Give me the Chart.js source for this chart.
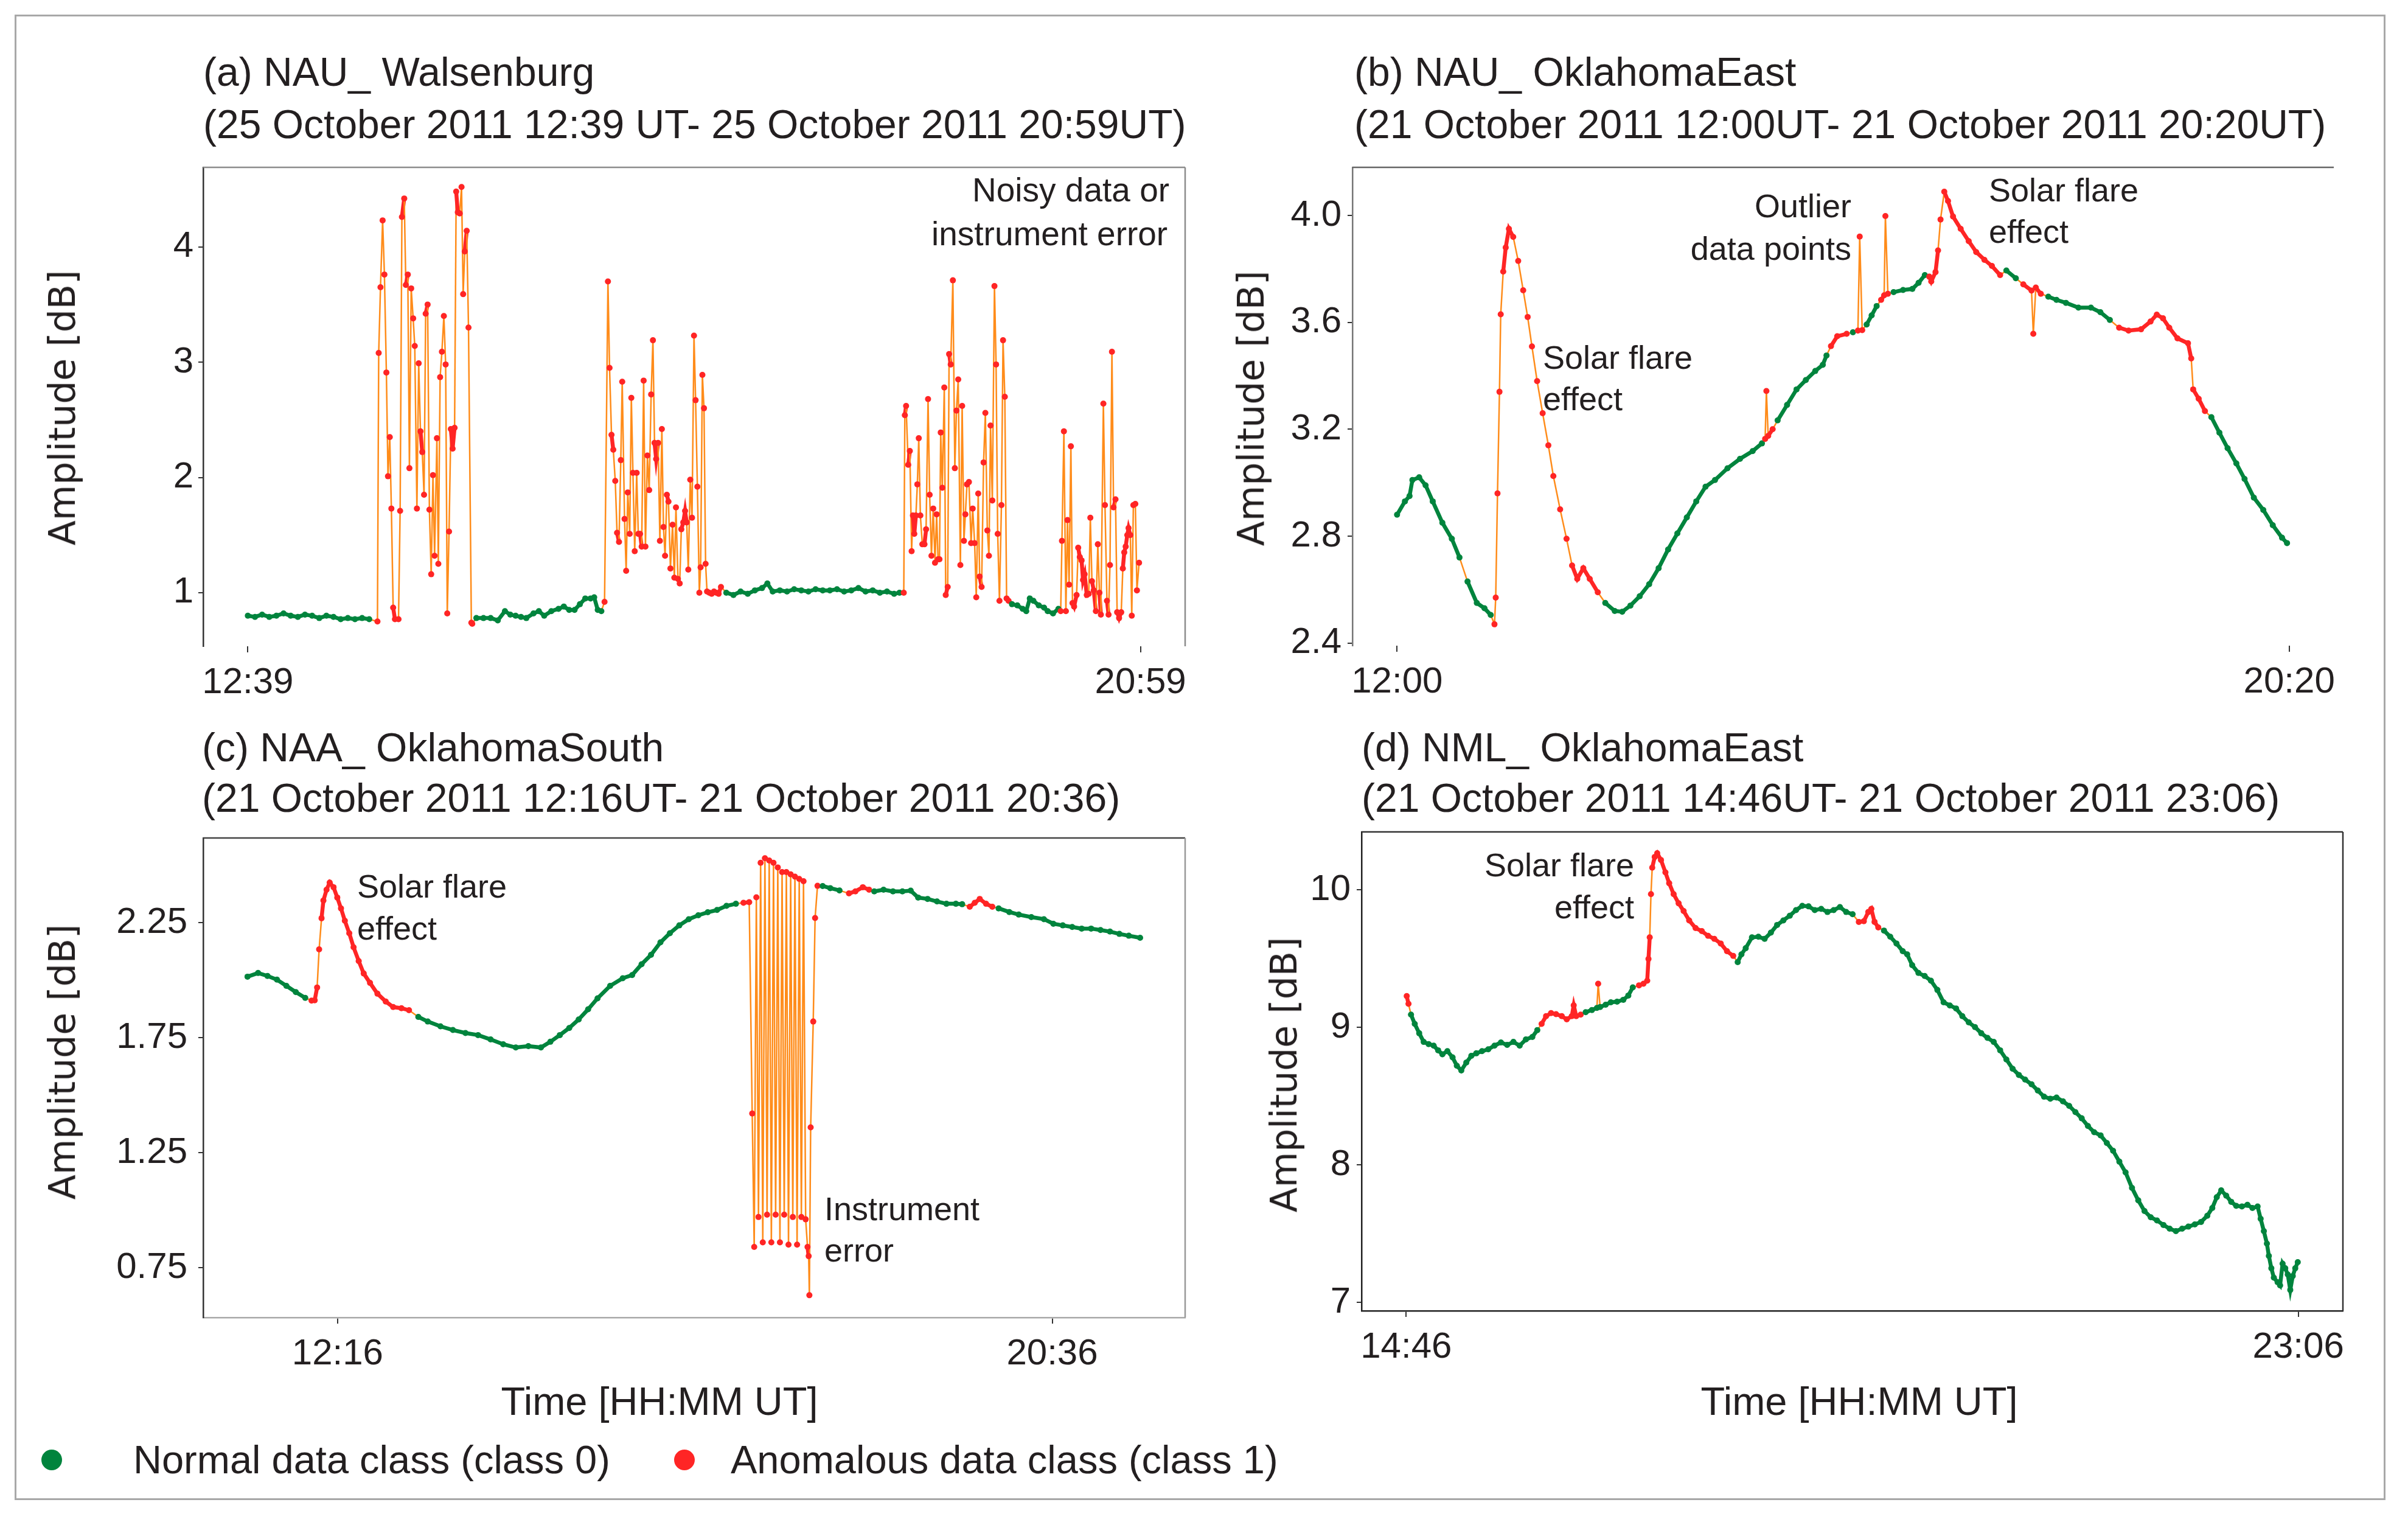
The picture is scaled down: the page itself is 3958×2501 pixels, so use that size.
<!DOCTYPE html>
<html>
<head>
<meta charset="utf-8">
<title>VLF amplitude – normal / anomalous classes</title>
<script src="https://cdn.jsdelivr.net/npm/chart.js@4.4.1/dist/chart.umd.min.js"></script>
<style>
  html, body { margin: 0; padding: 0; background: #fff; }
  body { position: relative; width: 3958px; height: 2501px; overflow: hidden;
         font-family: "Liberation Sans", Arial, sans-serif; color: #231f20; }
  .frame { position: absolute; left: 24px; top: 24px; width: 3897px; height: 2441px;
           border: 3px solid #a8a8a8; box-sizing: border-box; }
  .txt { position: absolute; white-space: nowrap; line-height: 1; transform: translateY(-50%); }
  .txt.right { transform: translate(-100%, -50%); }
  .txt.mid { transform: translate(-50%, -50%); }
  .ylab { position: absolute; white-space: nowrap; line-height: 1; font-family: "DejaVu Sans", sans-serif;
          font-size: 60px; transform: translate(-50%, -50%) rotate(-90deg); }
  .dot { position: absolute; width: 34px; height: 34px; border-radius: 50%; transform: translate(-50%, -50%); }
  canvas { position: absolute; }
</style>
</head>
<body>
<div class="frame"></div>
<script>
// time = minutes after the first labelled tick, amp = amplitude [dB], class 0 normal / 1 anomalous

// (a) NAU_Walsenburg
const aTime = [
  0, 4, 8, 12, 16, 20, 24, 28, 32, 36,
  40, 44, 48, 52, 56, 60, 64, 68,
  72.6, 73.3, 74.3, 75.5, 76.5, 77.6, 78.5, 79.5, 80.4, 81.4,
  82.4, 84.4, 85.3, 86.3, 87.6, 88.5, 89.6, 90.5, 91.5, 92.6,
  93.5, 94.7, 95.7, 96.7, 97.7, 98.7, 99.6, 100.7, 101.7, 102.7,
  103.7, 104.6, 105.9, 106.7, 107.7, 108.7, 109.8, 110.8, 111.7, 112.7,
  113.7, 114.7, 115.8, 116.7, 117.6, 118.7, 119.7, 120.6, 121.5, 122.6,
  123.6, 125.2, 125.7,
  128, 132, 136, 140, 144, 147, 150, 153, 156, 160,
  163, 166, 170, 174, 177, 180, 183, 186, 189, 192,
  194, 196, 198,
  199.8, 201.7, 202.6, 203.7, 204.7, 205.8, 206.8, 207.9, 208.9, 209.7,
  211.0, 211.9, 212.8, 213.9, 214.8, 215.7, 216.7, 217.8, 218.7, 219.7,
  220.6, 221.7, 222.7, 223.8, 224.8, 225.9, 226.9, 227.8, 228.7, 229.8,
  230.8, 231.9, 232.8, 233.7, 234.7, 235.6, 236.7, 237.9, 238.9, 239.8,
  240.9, 241.9, 242.8, 243.9, 244.9, 245.8, 246.7, 247.8, 248.8, 249.9,
  250.8, 251.8, 252.9, 253.6, 254.6, 255.5, 256.4, 257.2, 258.5, 259.8,
  261.1, 262.4, 263.7, 265.0,
  268, 272, 276, 280, 284, 288, 291, 294, 298, 302,
  306, 310, 314, 318, 322, 326, 330, 334, 338, 342,
  346, 350, 354, 358, 362, 365,
  367.4, 368.0, 368.7, 369.9, 370.8, 371.8, 372.5, 373.3, 374.2, 375.0,
  375.8, 376.7, 377.8, 379.0, 379.9, 381.0, 381.9, 382.9, 383.9, 384.9,
  385.8, 386.6, 387.4, 388.1, 389.0, 390.1, 390.9, 392.0, 392.8, 393.7,
  394.9, 396.0, 396.9, 397.9, 399.1, 400.1, 401.1, 401.9, 402.8, 403.9,
  405.1, 406.0, 407.1, 408.0, 409.1, 409.9, 411.0, 412.1, 413.1, 414.2,
  415.1, 416.0, 417.0, 418.2, 419.1, 420.0, 421.0, 422.1, 423.0, 424.0,
  425.0, 426.1,
  428, 431, 434, 436, 438, 440, 443, 446, 448, 451,
  454,
  455.3, 456.0, 457.1, 458.2, 459.1, 460.0, 461.0, 461.9, 462.8, 464.2,
  465.1, 466.0, 467.0, 467.8, 468.7, 469.9, 471.0, 471.9, 472.8, 473.8,
  475.0, 476.1, 477.0, 477.8, 479.2, 480.1, 481.2, 482.1, 482.9, 484.0,
  484.9, 486.0, 486.9, 488.0, 489.2, 490.1, 490.9, 491.7, 492.6, 493.3,
  494.3, 495.1, 496.0, 497.1, 498.0, 499.2
];
const aAmp = [
  0.80, 0.79, 0.81, 0.79, 0.80, 0.82, 0.80, 0.79, 0.81, 0.80,
  0.78, 0.80, 0.79, 0.77, 0.78, 0.77, 0.78, 0.77,
  0.75, 3.08, 3.65, 4.23, 3.76, 2.91, 2.01, 2.35, 1.73, 0.87,
  0.77, 0.77, 1.71, 4.26, 4.42, 3.67, 3.76, 2.08, 3.64, 3.38,
  3.14, 1.73, 2.99, 2.40, 2.22, 1.85, 3.42, 3.50, 1.72, 1.16,
  2.02, 1.32, 2.34, 1.25, 2.87, 3.09, 3.40, 2.98, 0.82, 1.53,
  2.42, 2.25, 2.43, 4.48, 4.30, 4.29, 4.52, 3.59, 3.96, 4.14,
  3.30, 0.74, 0.73,
  0.78, 0.78, 0.78, 0.76, 0.84, 0.81, 0.80, 0.79, 0.78, 0.82,
  0.84, 0.80, 0.84, 0.86, 0.88, 0.85, 0.85, 0.90, 0.95, 0.95,
  0.96, 0.85, 0.84,
  0.92, 3.70, 2.95, 2.37, 2.24, 1.97, 1.52, 1.44, 2.15, 2.83,
  1.64, 1.19, 1.87, 1.51, 2.69, 2.04, 1.36, 2.04, 1.51, 1.51,
  1.40, 2.84, 1.40, 2.19, 1.89, 2.72, 3.19, 2.30, 2.16, 2.30,
  1.45, 2.42, 1.57, 1.32, 1.85, 1.79, 1.21, 1.59, 1.13, 1.74,
  1.12, 1.08, 1.55, 1.61, 1.71, 1.61, 1.20, 1.98, 1.65, 3.23,
  2.67, 1.92, 1.00, 1.22, 2.89, 2.60, 1.25, 1.01, 1.00, 0.99,
  1.01, 1.00, 0.99, 1.05,
  1.00, 0.98, 1.01, 0.99, 1.02, 1.04, 1.08, 1.01, 1.02, 1.01,
  1.03, 1.02, 1.01, 1.03, 1.02, 1.02, 1.03, 1.01, 1.02, 1.04,
  1.01, 1.02, 1.00, 1.01, 0.99, 1.00,
  1.00, 2.54, 2.62, 2.11, 2.23, 1.36, 1.67, 1.51, 1.67, 1.94,
  2.34, 1.67, 1.42, 1.42, 1.55, 2.68, 1.85, 1.32, 1.73, 1.26,
  1.68, 1.29, 1.29, 2.39, 1.91, 2.78, 0.98, 1.05, 3.07, 2.98,
  3.71, 2.08, 2.58, 2.85, 1.24, 2.62, 1.45, 1.68, 1.94, 1.96,
  1.43, 1.73, 1.43, 0.96, 1.86, 1.14, 1.05, 2.13, 2.56, 1.54,
  1.32, 2.45, 1.80, 3.66, 2.98, 1.51, 0.93, 1.76, 3.19, 2.70,
  0.95, 0.93,
  0.90, 0.89, 0.86, 0.84, 0.95, 0.93, 0.89, 0.87, 0.84, 0.82,
  0.86,
  0.84, 1.45, 2.40, 0.84, 1.63, 1.07, 2.27, 0.91, 0.88, 0.98,
  1.39, 1.31, 1.28, 1.11, 1.16, 0.98, 0.99, 1.65, 1.10, 1.02,
  0.84, 1.42, 1.00, 0.81, 2.64, 1.76, 0.93, 0.81, 1.24, 3.09,
  1.74, 1.81, 0.83, 0.78, 0.83, 1.21, 1.35, 1.40, 1.50, 1.56,
  1.50, 0.80, 1.76, 1.77, 1.02, 1.26
];
const aClass = [
  0, 0, 0, 0, 0, 0, 0, 0, 0, 0,
  0, 0, 0, 0, 0, 0, 0, 0,
  1, 1, 1, 1, 1, 1, 1, 1, 1, 1,
  1, 1, 1, 1, 1, 1, 1, 1, 1, 1,
  1, 1, 1, 1, 1, 1, 1, 1, 1, 1,
  1, 1, 1, 1, 1, 1, 1, 1, 1, 1,
  1, 1, 1, 1, 1, 1, 1, 1, 1, 1,
  1, 1, 1,
  0, 0, 0, 0, 0, 0, 0, 0, 0, 0,
  0, 0, 0, 0, 0, 0, 0, 0, 0, 0,
  0, 0, 0,
  1, 1, 1, 1, 1, 1, 1, 1, 1, 1,
  1, 1, 1, 1, 1, 1, 1, 1, 1, 1,
  1, 1, 1, 1, 1, 1, 1, 1, 1, 1,
  1, 1, 1, 1, 1, 1, 1, 1, 1, 1,
  1, 1, 1, 1, 1, 1, 1, 1, 1, 1,
  1, 1, 1, 1, 1, 1, 1, 1, 1, 1,
  1, 1, 1, 1,
  0, 0, 0, 0, 0, 0, 0, 0, 0, 0,
  0, 0, 0, 0, 0, 0, 0, 0, 0, 0,
  0, 0, 0, 0, 0, 0,
  1, 1, 1, 1, 1, 1, 1, 1, 1, 1,
  1, 1, 1, 1, 1, 1, 1, 1, 1, 1,
  1, 1, 1, 1, 1, 1, 1, 1, 1, 1,
  1, 1, 1, 1, 1, 1, 1, 1, 1, 1,
  1, 1, 1, 1, 1, 1, 1, 1, 1, 1,
  1, 1, 1, 1, 1, 1, 1, 1, 1, 1,
  1, 1,
  0, 0, 0, 0, 0, 0, 0, 0, 0, 0,
  0,
  1, 1, 1, 1, 1, 1, 1, 1, 1, 1,
  1, 1, 1, 1, 1, 1, 1, 1, 1, 1,
  1, 1, 1, 1, 1, 1, 1, 1, 1, 1,
  1, 1, 1, 1, 1, 1, 1, 1, 1, 1,
  1, 1, 1, 1, 1, 1
];
const aXLabels = ['12:39', '20:59'];
const aYTicks = [1, 2, 3, 4];

// (b) NAU_OklahomaEast
const bTime = [
  0, 4.4, 7, 8.6, 12.4, 16, 20, 25.4, 30.7, 35,
  39.5, 44.7, 49, 52.5, 54.6, 55.3, 56.3, 57.4, 58.1, 59.5,
  60.9, 62.7, 65.1, 67.9, 70.7, 73.2, 75.6, 78.5, 81.6, 84.8,
  87.6, 91.4, 95, 98.1, 101, 104.4, 108, 112.5, 116.7, 122,
  126.2, 130.8, 136, 141.3, 146.6, 151.9, 157.1, 162.4, 167.7, 172.9,
  178.2, 185.2, 192.2, 199.3, 204.5, 206.3, 207, 208, 210.5, 213.3,
  218.6, 223.9, 229.1, 234.4, 238.6, 240.7, 243.2, 246.7, 252, 255.5,
  258.3, 259.3, 260.7, 263.2, 266, 268.8, 271.3, 273, 273.7, 275.1,
  278.3, 283.6, 288.8, 292.3, 295.8, 298.3, 299.4, 301.8, 303.2, 304.6,
  306.7, 308.8, 311.6, 315.9, 320.4, 324.6, 329.2, 333.4, 338, 341.5,
  346.8, 351, 355.6, 356.6, 358, 360.8, 365, 369.6, 374.9, 381.9,
  388.9, 394.2, 399.5, 404.7, 410, 417, 422.3, 425.8, 429.3, 432.8,
  437.4, 443.3, 445.1, 446.2, 449.3, 452.8, 456.4, 460.9, 465.5, 470.4,
  475, 480.2, 485.5, 490.8, 496, 498.8
];
const bAmp = [
  2.88, 2.93, 2.95, 3.01, 3.02, 2.99, 2.93, 2.85, 2.79, 2.72,
  2.63, 2.55, 2.53, 2.505, 2.47, 2.57, 2.96, 3.34, 3.63, 3.79,
  3.88, 3.95, 3.92, 3.83, 3.72, 3.62, 3.51, 3.38, 3.26, 3.14,
  3.025, 2.90, 2.79, 2.69, 2.64, 2.68, 2.64, 2.59, 2.55, 2.52,
  2.517, 2.54, 2.575, 2.62, 2.68, 2.75, 2.81, 2.87, 2.93, 2.985,
  3.01, 3.054, 3.089, 3.118, 3.147, 3.164, 3.343, 3.175, 3.20, 3.233,
  3.291, 3.349, 3.384, 3.418, 3.441, 3.476, 3.511, 3.548, 3.557, 3.563,
  3.569, 3.921, 3.571, 3.592, 3.626, 3.661, 3.684, 3.701, 3.998, 3.707,
  3.713, 3.721, 3.725, 3.748, 3.777, 3.771, 3.753, 3.788, 3.869, 3.985,
  4.089, 4.054, 3.996, 3.95, 3.904, 3.863, 3.834, 3.811, 3.777, 3.794,
  3.765, 3.742, 3.719, 3.557, 3.73, 3.707, 3.696, 3.684, 3.673, 3.655,
  3.655, 3.638, 3.609, 3.58, 3.569, 3.574, 3.603, 3.629, 3.615, 3.58,
  3.54, 3.522, 3.465, 3.349, 3.314, 3.268, 3.245, 3.187, 3.129, 3.072,
  3.014, 2.944, 2.898, 2.841, 2.794, 2.774
];
const bClass = [
  0, 0, 0, 0, 0, 0, 0, 0, 0, 0,
  0, 0, 0, 0, 1, 1, 1, 1, 1, 1,
  1, 1, 1, 1, 1, 1, 1, 1, 1, 1,
  1, 1, 1, 1, 1, 1, 1, 1, 0, 0,
  0, 0, 0, 0, 0, 0, 0, 0, 0, 0,
  0, 0, 0, 0, 0, 1, 1, 1, 1, 0,
  0, 0, 0, 0, 0, 0, 1, 1, 1, 0,
  1, 1, 1, 0, 0, 0, 1, 1, 1, 1,
  0, 0, 0, 0, 0, 1, 1, 1, 1, 1,
  1, 1, 1, 1, 1, 1, 1, 1, 1, 0,
  0, 1, 1, 1, 1, 1, 0, 0, 0, 0,
  0, 0, 0, 1, 1, 1, 1, 1, 1, 1,
  1, 1, 1, 1, 1, 1, 0, 0, 0, 0,
  0, 0, 0, 0, 0, 0
];
const bXLabels = ['12:00', '20:20'];
const bYTicks = [2.4, 2.8, 3.2, 3.6, 4.0];

// (c) NAA_OklahomaSouth
const cTime = [
  -63, -55.6, -49, -42.4, -35.8, -29.2, -22.6, -18.2, -16, -14.3,
  -12.9, -11.2, -9.9, -7.7, -5.5, -2.8, -0.2, 2.4, 5.1, 8.2,
  11.2, 14.8, 18.3, 22.7, 27.9, 33.7, 38.9, 44.7, 50, 56.5,
  63.1, 72, 80.7, 89.5, 98.3, 107.1, 115.9, 124.7, 133.5, 142.3,
  148.9, 155.5, 162.1, 168.7, 175.3, 181.9, 190.7, 199.5, 206.1, 212.7,
  219.3, 225.9, 232.5, 239.1, 245.7, 252.4, 259, 265.5, 272.1, 278.7,
  284, 288, 290.1, 291.5, 293, 294.5, 296, 297.5, 299, 300.5,
  302, 303.5, 305, 306.5, 308, 309.5, 311, 312.5, 314, 315.5,
  317, 318.5, 320, 321.5, 323, 324.5, 326, 327.5, 328.8, 329.6,
  330.1, 331, 332.8, 334.1, 335.8, 339.4, 344.7, 351.2, 357.8, 362.3,
  367.5, 371.9, 375.5, 382, 388.6, 395.2, 401, 406.2, 412.8, 419.4,
  426, 432.6, 437, 442.3, 445.8, 449.3, 453.7, 458.1, 462.5, 470,
  476.6, 485.4, 494.2, 500.8, 507.4, 514, 520.6, 527.2, 533.8, 540.4,
  547, 553.6, 561.5
];
const cAmp = [
  2.015, 2.031, 2.018, 2.002, 1.975, 1.948, 1.923, 1.911, 1.912, 1.968,
  2.134, 2.269, 2.346, 2.393, 2.424, 2.404, 2.359, 2.312, 2.258, 2.204,
  2.143, 2.083, 2.029, 1.988, 1.941, 1.907, 1.883, 1.878, 1.869, 1.84,
  1.82, 1.799, 1.783, 1.77, 1.761, 1.742, 1.721, 1.707, 1.713, 1.707,
  1.732, 1.761, 1.792, 1.829, 1.873, 1.921, 1.975, 2.008, 2.022, 2.069,
  2.11, 2.164, 2.204, 2.238, 2.265, 2.282, 2.295, 2.305, 2.323, 2.332,
  2.336, 2.339, 1.42, 0.84, 2.36, 0.97, 2.51, 0.86, 2.53, 0.98,
  2.52, 0.86, 2.51, 0.98, 2.49, 0.86, 2.47, 0.98, 2.47, 0.85,
  2.46, 0.97, 2.45, 0.85, 2.44, 0.97, 2.43, 0.96, 0.84, 0.80,
  0.63, 1.36, 1.82, 2.27, 2.41, 2.409, 2.40, 2.39, 2.377, 2.386,
  2.404, 2.393, 2.386, 2.393, 2.386, 2.386, 2.389, 2.359, 2.353, 2.342,
  2.332, 2.332, 2.33, 2.319, 2.336, 2.353, 2.332, 2.319, 2.312, 2.296,
  2.285, 2.274, 2.265, 2.245, 2.238, 2.231, 2.224, 2.224, 2.218, 2.211,
  2.201, 2.193, 2.184
];
const cClass = [
  0, 0, 0, 0, 0, 0, 0, 1, 1, 1,
  1, 1, 1, 1, 1, 1, 1, 1, 1, 1,
  1, 1, 1, 1, 1, 1, 1, 1, 1, 0,
  0, 0, 0, 0, 0, 0, 0, 0, 0, 0,
  0, 0, 0, 0, 0, 0, 0, 0, 0, 0,
  0, 0, 0, 0, 0, 0, 0, 0, 0, 0,
  1, 1, 1, 1, 1, 1, 1, 1, 1, 1,
  1, 1, 1, 1, 1, 1, 1, 1, 1, 1,
  1, 1, 1, 1, 1, 1, 1, 1, 1, 1,
  1, 1, 1, 1, 1, 0, 0, 0, 1, 1,
  1, 1, 0, 0, 0, 0, 0, 0, 0, 0,
  0, 0, 0, 1, 1, 1, 1, 1, 0, 0,
  0, 0, 0, 0, 0, 0, 0, 0, 0, 0,
  0, 0, 0
];
const cXLabels = ['12:16', '20:36'];
const cYTicks = [0.75, 1.25, 1.75, 2.25];

// (d) NML_OklahomaEast
const dTime = [
  0.3, 1.3, 2.7, 4.8, 7.3, 9.8, 12.6, 15.4, 17.9, 20.3,
  23.1, 26, 28.4, 30.9, 33.7, 36.5, 39.3, 42.5, 46, 49.5,
  53.1, 56.6, 60.1, 63.6, 67.1, 70.7, 73.5, 75.9, 78.4, 81.2,
  84, 87.2, 90, 92.8, 93.9, 95.3, 97.8, 100.6, 104.1, 106.9,
  107.6, 108.7, 111.8, 114.7, 118.2, 121.7, 124.5, 127, 130.5, 133,
  135.1, 135.8, 136.5, 137.2, 137.9, 139.3, 140.7, 142.8, 145.3, 147.4,
  149.9, 152.7, 155.5, 158.6, 162.2, 165.7, 169.2, 172.7, 176.3, 179.8,
  183.3, 185.8, 187.9, 190.3, 193.8, 197.4, 200.9, 204.4, 207.9, 211.4,
  215, 218.5, 222, 225.5, 229, 232.6, 236.1, 239.6, 243.1, 246.6,
  250.2, 253.7, 256.5, 259, 260.7, 262.5, 264.6, 267.8, 271.3, 274.8,
  278.3, 280.8, 283.6, 287.1, 290.6, 294.1, 297.7, 301.2, 304.7, 308.2,
  311.7, 315.3, 318.8, 322.3, 325.8, 329.3, 332.9, 336.4, 339.9, 343.4,
  346.9, 350.5, 354, 357.5, 361, 364.5, 368.1, 371.6, 375.1, 378.6,
  382.1, 385.6, 389.2, 392.7, 396.2, 399.7, 403.2, 406.8, 410.3, 413.8,
  417.3, 420.8, 424.4, 427.9, 431.4, 434.9, 438.4, 442, 445.5, 449,
  451.8, 454.3, 456.8, 459.6, 462.4, 465.2, 468.4, 471.5, 474.3, 477.2,
  478.9, 480.7, 482.4, 483.5, 484.9, 486.3, 488.4, 489.8, 491.2, 492.7,
  494.1, 495.5, 496.9, 498.3, 499.7
];
const dAmp = [
  9.227, 9.171, 9.092, 9.025, 8.957, 8.894, 8.878, 8.867, 8.833, 8.804,
  8.827, 8.782, 8.721, 8.687, 8.744, 8.793, 8.811, 8.827, 8.84, 8.867,
  8.89, 8.872, 8.894, 8.867, 8.912, 8.93, 8.98, 9.025, 9.081, 9.103,
  9.096, 9.081, 9.058, 9.081, 9.16, 9.081, 9.092, 9.11, 9.126, 9.141,
  9.317, 9.148, 9.164, 9.182, 9.186, 9.2, 9.231, 9.29, 9.305, 9.317,
  9.339, 9.497, 9.654, 9.968, 10.16, 10.238, 10.265, 10.216, 10.126, 10.047,
  9.968, 9.901, 9.845, 9.777, 9.721, 9.699, 9.665, 9.643, 9.609, 9.553,
  9.519, 9.474, 9.53, 9.575, 9.654, 9.658, 9.643, 9.688, 9.744, 9.777,
  9.811, 9.852, 9.883, 9.879, 9.852, 9.861, 9.838, 9.852, 9.874, 9.838,
  9.822, 9.766, 9.771, 9.838, 9.861, 9.766, 9.726, 9.703, 9.658, 9.609,
  9.553, 9.53, 9.452, 9.395, 9.373, 9.339, 9.272, 9.182, 9.159, 9.137,
  9.081, 9.036, 9.002, 8.957, 8.923, 8.894, 8.833, 8.766, 8.699, 8.654,
  8.62, 8.586, 8.541, 8.496, 8.481, 8.49, 8.462, 8.429, 8.384, 8.339,
  8.283, 8.238, 8.215, 8.159, 8.103, 8.024, 7.946, 7.833, 7.743, 7.665,
  7.62, 7.597, 7.564, 7.537, 7.519, 7.537, 7.552, 7.568, 7.586, 7.631,
  7.687, 7.766, 7.815, 7.777, 7.732, 7.703, 7.698, 7.71, 7.687, 7.698,
  7.609, 7.519, 7.429, 7.339, 7.249, 7.181, 7.148, 7.125, 7.283, 7.249,
  7.204, 7.092, 7.193, 7.249, 7.294
];
const dClass = [
  1, 1, 0, 0, 0, 0, 0, 0, 0, 0,
  0, 0, 0, 0, 0, 0, 0, 0, 0, 0,
  0, 0, 0, 0, 0, 0, 0, 1, 1, 1,
  1, 1, 1, 1, 1, 1, 1, 0, 0, 0,
  1, 0, 0, 0, 0, 0, 0, 0, 1, 1,
  1, 1, 1, 1, 1, 1, 1, 1, 1, 1,
  1, 1, 1, 1, 1, 1, 1, 1, 1, 1,
  1, 0, 0, 0, 0, 0, 0, 0, 0, 0,
  0, 0, 0, 0, 0, 0, 0, 0, 0, 0,
  0, 1, 1, 1, 1, 1, 1, 0, 0, 0,
  0, 0, 0, 0, 0, 0, 0, 0, 0, 0,
  0, 0, 0, 0, 0, 0, 0, 0, 0, 0,
  0, 0, 0, 0, 0, 0, 0, 0, 0, 0,
  0, 0, 0, 0, 0, 0, 0, 0, 0, 0,
  0, 0, 0, 0, 0, 0, 0, 0, 0, 0,
  0, 0, 0, 0, 0, 0, 0, 0, 0, 0,
  0, 0, 0, 0, 0, 0, 0, 0, 0, 0,
  0, 0, 0, 0, 0
];
const dXLabels = ['14:46', '23:06'];
const dYTicks = [7, 8, 9, 10];

// styling / layout
const GREEN = '#00843d';
const RED = '#ff2525';
const ORANGE = '#ff8c1a';
const INK = '#231f20';
const FONT = '"Liberation Sans", Arial, sans-serif';
const WY = 230, HX = 130, PT = 12, PR = 12;

const panels = [
  { time: aTime, amp: aAmp, cls: aClass, xLabels: aXLabels, yTicks: aYTicks, dec: 0,
    box: [334, 275, 1948, 1062], x: [-25, 525], y: [0.535, 4.69],
    left: '#333', top: '#8c8c8c', right: '#8c8c8c', bottom: null, gap: 8 },
  { time: bTime, amp: bAmp, cls: bClass, xLabels: bXLabels, yTicks: bYTicks, dec: 1,
    box: [2223, 275, 3836, 1061], x: [-25, 525], y: [2.39, 4.18],
    left: '#777', top: '#666', right: null, bottom: null, gap: 10 },
  { time: cTime, amp: cAmp, cls: cClass, xLabels: cXLabels, yTicks: cYTicks, dec: 2,
    box: [334, 1377, 1948, 2165], x: [-94, 593], y: [0.533, 2.618],
    left: '#333', top: '#444', right: '#999', bottom: '#aaa', gap: 18 },
  { time: dTime, amp: dAmp, cls: dClass, xLabels: dXLabels, yTicks: dYTicks, dec: 0,
    box: [2238, 1367, 3851, 2154], x: [-25, 525], y: [6.94, 10.42],
    left: '#222', top: '#333', right: '#333', bottom: '#222', gap: 10 }
];

// top / right frame lines of a panel
function edgeLines(p) {
  return {
    id: 'edgeLines',
    afterDatasetsDraw(chart) {
      const { ctx, chartArea: a } = chart;
      ctx.save();
      ctx.lineWidth = 2.5;
      if (p.top) {
        ctx.strokeStyle = p.top;
        ctx.beginPath(); ctx.moveTo(a.left, a.top); ctx.lineTo(a.right, a.top); ctx.stroke();
      }
      if (p.right) {
        ctx.strokeStyle = p.right;
        ctx.beginPath(); ctx.moveTo(a.right, a.top); ctx.lineTo(a.right, a.bottom); ctx.stroke();
      }
      ctx.restore();
    }
  };
}

// long hops between samples show the thin orange line, dense runs look like a solid band
function isHop(c, cls) {
  return Math.hypot(c.p1.x - c.p0.x, c.p1.y - c.p0.y) > 40 || cls[c.p0DataIndex] !== cls[c.p1DataIndex];
}

panels.forEach(p => {
  const [L, T, R, B] = p.box;
  const cv = document.createElement('canvas');
  const w = R - L + WY + PR, h = B - T + PT + HX;
  cv.width = w; cv.height = h;
  cv.style.left = (L - WY) + 'px';
  cv.style.top = (T - PT) + 'px';
  cv.style.width = w + 'px';
  cv.style.height = h + 'px';
  document.body.appendChild(cv);

  const n = Math.min(p.time.length, p.amp.length, p.cls.length);
  const pts = [];
  for (let i = 0; i < n; i++) pts.push({ x: p.time[i], y: p.amp[i] });

  new Chart(cv, {
    type: 'line',
    data: {
      datasets: [{
        data: pts,
        borderColor: ORANGE,
        borderWidth: 2.5,
        tension: 0,
        pointRadius: 5,
        pointHoverRadius: 5,
        pointBorderWidth: 0,
        pointBackgroundColor: p.cls.slice(0, n).map(c => c ? RED : GREEN),
        segment: {
          borderColor: c => isHop(c, p.cls) ? ORANGE : (p.cls[c.p1DataIndex] ? RED : GREEN),
          borderWidth: c => isHop(c, p.cls) ? 2.5 : 6.5
        }
      }]
    },
    options: {
      responsive: false,
      animation: false,
      devicePixelRatio: 1,
      events: [],
      layout: { padding: { left: 0, top: PT, right: PR, bottom: 0 } },
      plugins: { legend: { display: false }, tooltip: { enabled: false } },
      scales: {
        x: {
          type: 'linear',
          min: p.x[0], max: p.x[1],
          afterBuildTicks: s => { s.ticks = [{ value: 0 }, { value: 500 }]; },
          afterFit: s => { s.height = HX; s.paddingLeft = 0; s.paddingRight = 0; },
          ticks: {
            autoSkip: false, maxRotation: 0, padding: 14, color: INK,
            font: { family: FONT, size: 60 },
            callback: (v, i) => p.xLabels[i]
          },
          grid: { drawOnChartArea: false, drawTicks: true, tickLength: 10, color: '#333', tickColor: '#333', lineWidth: 2 },
          border: { display: !!p.bottom, color: p.bottom || '#000', width: 2.5 }
        },
        y: {
          min: p.y[0], max: p.y[1],
          afterBuildTicks: s => { s.ticks = p.yTicks.map(v => ({ value: v })); },
          afterFit: s => { s.width = WY; s.paddingTop = 0; s.paddingBottom = 0; },
          ticks: {
            padding: p.gap, color: INK,
            font: { family: FONT, size: 60 },
            callback: v => Number(v).toFixed(p.dec)
          },
          grid: { drawOnChartArea: false, drawTicks: true, tickLength: 8, color: '#333', tickColor: '#333', lineWidth: 2 },
          border: { display: true, color: p.left, width: 2.5 }
        }
      }
    },
    plugins: [edgeLines(p)]
  });
});

// text
function put(text, x, y, size, align) {
  const d = document.createElement('div');
  d.className = 'txt' + (align ? ' ' + align : '');
  d.textContent = text;
  d.style.left = x + 'px';
  d.style.top = y + 'px';
  d.style.fontSize = size + 'px';
  document.body.appendChild(d);
}
function yTitle(x, y) {
  const d = document.createElement('div');
  d.className = 'ylab';
  d.textContent = 'Amplitude [dB]';
  d.style.left = x + 'px';
  d.style.top = y + 'px';
  document.body.appendChild(d);
}

put('(a) NAU_ Walsenburg', 334, 118, 66);
put('(25 October 2011 12:39 UT- 25 October 2011 20:59UT)', 334, 204, 66);
put('(b) NAU_ OklahomaEast', 2226, 118, 66);
put('(21 October 2011 12:00UT- 21 October 2011 20:20UT)', 2226, 204, 66);
put('(c) NAA_ OklahomaSouth', 332, 1228, 66);
put('(21 October 2011 12:16UT- 21 October 2011 20:36)', 332, 1311, 66);
put('(d) NML_ OklahomaEast', 2238, 1228, 66);
put('(21 October 2011 14:46UT- 21 October 2011 23:06)', 2238, 1311, 66);

put('Noisy data or', 1598, 312, 55);
put('instrument error', 1531, 384, 55);
put('Solar flare', 2536, 587, 54);
put('effect', 2536, 655, 54);
put('Outlier', 3043, 338, 54, 'right');
put('data points', 3043, 408, 54, 'right');
put('Solar flare', 3269, 312, 54);
put('effect', 3269, 380, 54);
put('Solar flare', 587, 1456, 54);
put('effect', 587, 1525, 54);
put('Instrument', 1355, 1986, 54);
put('error', 1355, 2054, 54);
put('Solar flare', 2686, 1421, 54, 'right');
put('effect', 2686, 1490, 54, 'right');

put('Time [HH:MM UT]', 1084, 2302, 65, 'mid');
put('Time [HH:MM UT]', 3056, 2302, 65, 'mid');

yTitle(102, 670);
yTitle(2056, 671);
yTitle(102, 1745);
yTitle(2110, 1766);

// legend
[[85, GREEN], [1125, RED]].forEach(([x, c]) => {
  const d = document.createElement('div');
  d.className = 'dot';
  d.style.left = x + 'px';
  d.style.top = '2399px';
  d.style.background = c;
  document.body.appendChild(d);
});
put('Normal data class (class 0)', 219, 2398, 65);
put('Anomalous data class (class 1)', 1201, 2398, 65);
</script>
</body>
</html>
